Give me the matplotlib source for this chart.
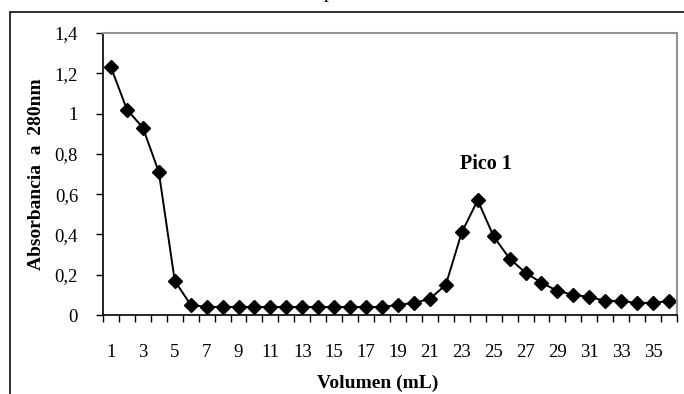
import matplotlib
matplotlib.use("Agg")
import matplotlib.pyplot as plt
from matplotlib.patches import Rectangle
from matplotlib.ticker import FuncFormatter

# Fraction volume (mL) and absorbance at 280 nm
volumen = list(range(1, 37))
absorbancia = [1.23, 1.02, 0.93, 0.71, 0.17, 0.05, 0.04, 0.04, 0.04, 0.04,
               0.04, 0.04, 0.04, 0.04, 0.04, 0.04, 0.04, 0.04, 0.05, 0.06,
               0.08, 0.15, 0.41, 0.57, 0.39, 0.28, 0.21, 0.16, 0.12, 0.10,
               0.09, 0.07, 0.07, 0.06, 0.06, 0.07]
y_ticks = [0, 0.2, 0.4, 0.6, 0.8, 1.0, 1.2, 1.4]
x_labels = [str(v) for v in volumen if v % 2 == 1]
pico_label = "Pico 1"

plt.rcParams['font.family'] = ['Liberation Serif', 'DejaVu Serif']

W, H = 684, 394
fig = plt.figure(figsize=(W / 100, H / 100), dpi=100)
ax = fig.add_axes([103 / W, 1 - 315 / H, 574 / W, 282 / H])

# outer chart frame (cropped on the right and bottom)
fig.patches.append(Rectangle((10 / W, -0.1), 1.2, 1 - 12 / H + 0.1,
                             transform=fig.transFigure, fill=False,
                             edgecolor='#202020', linewidth=1.3))
# cropped title, only a descender shows
fig.text(324 / W, 1 + 2 / H, "p", fontsize=14, va='baseline', ha='left')

ax.plot(volumen, absorbancia, color='black', linewidth=1.4,
        marker='D', markersize=7.5, markerfacecolor='black',
        markeredgecolor='black')

ax.set_xlim(0.5, 36.5)
ax.set_ylim(0, 1.4)

# category axis: ticks between categories, labels on odd ones
ax.set_xticks([v + 0.5 for v in range(0, 37)])
ax.set_xticklabels([])
ax.set_xticks([v for v in volumen if v % 2 == 1], minor=True)
ax.set_xticklabels(x_labels, minor=True)
ax.tick_params(axis='x', which='major', direction='out', length=5,
               width=1, color='black')
ax.tick_params(axis='x', which='minor', length=0, pad=21, labelsize=13.5)

ax.set_yticks(y_ticks)
ax.yaxis.set_major_formatter(FuncFormatter(
    lambda v, p: ('%g' % round(v, 1)).replace('.', ',')))
ax.tick_params(axis='y', direction='out', length=5, width=1,
               pad=13, labelsize=13.5)

for side in ['left', 'bottom']:
    ax.spines[side].set_color('black')
    ax.spines[side].set_linewidth(1.2)
for side in ['top', 'right']:
    ax.spines[side].set_color('#909090')
    ax.spines[side].set_linewidth(1.5)

ax.set_ylabel("Absorbancia  a  280nm", fontsize=14, fontweight='bold',
              va='center')
ax.yaxis.set_label_coords((37 - 103) / 574, 0.5)
ax.set_xlabel("Volumen (mL)", fontsize=14, fontweight='bold', va='center')
ax.xaxis.set_label_coords((378 - 103) / 574, (315 - 383) / 282)

ax.text(24.5, 0.75, pico_label, fontsize=14.5, fontweight='bold',
        ha='center', va='center')

fig.savefig("out.png", dpi=100)
